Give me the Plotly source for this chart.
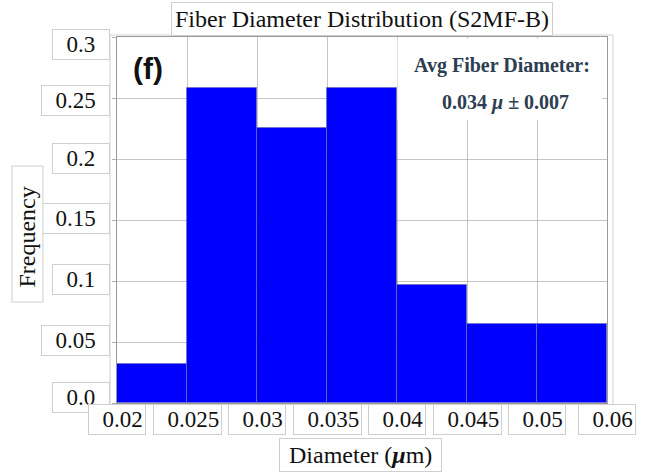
import plotly.graph_objects as go

# ---- data ----
bin_edge_labels = ["0.02", "0.025", "0.03", "0.035", "0.04", "0.045", "0.05", "0.06"]
frequency = [0.0323, 0.2581, 0.2258, 0.2581, 0.0968, 0.0645, 0.0645]
y_tick_vals = [0.0, 0.05, 0.1, 0.15, 0.2, 0.25, 0.3]
y_tick_text = ["0.0", "0.05", "0.1", "0.15", "0.2", "0.25", "0.3"]
title_text = "Fiber Diameter Distribution (S2MF-B)"
x_title = "Diameter (<b><i>μ</i></b>m)"
y_title = "Frequency"
panel_label = "(f)"
stat_line1 = "Avg Fiber Diameter:"
stat_line2 = "0.034 <i>μ</i> ± 0.007"

# label nudges (pixels) to mimic the pasted label boxes of the original
y_label_nudge = [6, 2, 2, 2, 1, -2, -7]

SERIF = "Liberation Serif"
NB = "\u00a0"
BOX = "#cfcfcf"

n_bins = len(frequency)
bin_centers = [i + 0.5 for i in range(n_bins)]
edge_pos = list(range(n_bins + 1))

fig = go.Figure()
fig.add_trace(go.Bar(
    x=bin_centers, y=frequency, width=1.0,
    marker=dict(color="#0000FF", line=dict(color="rgba(110,110,190,0.7)", width=1)),
    hoverinfo="skip", showlegend=False,
))

annotations = []
# y tick labels in boxes
for v, t, dy in zip(y_tick_vals, y_tick_text, y_label_nudge):
    annotations.append(dict(
        xref="paper", yref="y", x=0, y=v, xanchor="right", yanchor="middle",
        xshift=-7, yshift=dy, text=NB * 2 + t + NB * 2, showarrow=False,
        font=dict(family=SERIF, size=23, color="#111"),
        bgcolor="white", bordercolor=BOX, borderwidth=1, borderpad=2,
    ))
# x tick labels in boxes
for p, t in zip(edge_pos, bin_edge_labels):
    annotations.append(dict(
        xref="x", yref="paper", x=p, y=0, xanchor="center", yanchor="top",
        yshift=-1, text=NB * 2 + t, showarrow=False,
        font=dict(family=SERIF, size=23, color="#111"),
        bgcolor="white", bordercolor=BOX, borderwidth=1, borderpad=2,
    ))
# title
annotations.append(dict(
    xref="paper", yref="paper", x=0.5, y=1, xanchor="center", yanchor="bottom",
    yshift=1, text=title_text, showarrow=False,
    font=dict(family=SERIF, size=24, color="#111"),
    bgcolor="white", bordercolor=BOX, borderwidth=1, borderpad=3,
))
# x title
annotations.append(dict(
    xref="paper", yref="paper", x=0.497, y=0, xanchor="center", yanchor="top",
    yshift=-35, text=NB + x_title + NB, showarrow=False,
    font=dict(family=SERIF, size=24, color="#111"),
    bgcolor="white", bordercolor=BOX, borderwidth=1, borderpad=3,
))
# y title
annotations.append(dict(
    xref="paper", yref="paper", x=-0.1837, y=0.463, xanchor="center", yanchor="middle",
    text=NB * 2 + y_title + NB * 3, textangle=-90, showarrow=False,
    font=dict(family=SERIF, size=24, color="#111"),
    bgcolor="white", bordercolor=BOX, borderwidth=1, borderpad=2,
))
# panel label
annotations.append(dict(
    xref="paper", yref="paper", x=0.0633, y=0.9126, xanchor="center", yanchor="middle",
    text="<b>" + panel_label + "</b>", showarrow=False,
    font=dict(family="Liberation Sans", size=30, color="#111"),
))
# stats text
annotations.append(dict(
    xref="paper", yref="paper", x=0.786, y=0.921, xanchor="center", yanchor="middle",
    text="<b>" + stat_line1 + "</b>", showarrow=False,
    font=dict(family=SERIF, size=20, color="#2c3e50"),
))
annotations.append(dict(
    xref="paper", yref="paper", x=0.792, y=0.822, xanchor="center", yanchor="middle",
    text="<b>" + stat_line2 + "</b>", showarrow=False,
    font=dict(family=SERIF, size=20, color="#2c3e50"),
))

shapes = [
    # outer light frame
    dict(type="rect", xref="paper", yref="paper", x0=-0.0143, x1=1.0122, y0=-0.004, y1=1.0055,
         line=dict(color="#d0d0d0", width=1), fillcolor="rgba(0,0,0,0)", layer="below"),
    # white box behind stats text
    dict(type="rect", xref="paper", yref="paper", x0=0.5725, x1=0.99, y0=0.773, y1=0.996,
         line=dict(width=0), fillcolor="white", layer="above"),
]

fig.update_layout(
    width=647, height=476,
    margin=dict(l=117, r=40, t=37, b=73),
    paper_bgcolor="white", plot_bgcolor="white",
    bargap=0,
    annotations=annotations,
    shapes=shapes,
    xaxis=dict(
        range=[0, n_bins], tickvals=edge_pos, showticklabels=False,
        showgrid=True, gridcolor="rgba(150,150,150,0.55)", gridwidth=1,
        showline=True, linecolor="#9a9a9a", linewidth=1, mirror=True,
        ticks="", zeroline=False, layer="above traces", fixedrange=True,
    ),
    yaxis=dict(
        range=[0, 0.3], tickvals=y_tick_vals, showticklabels=False,
        showgrid=True, gridcolor="rgba(150,150,150,0.55)", gridwidth=1,
        showline=True, linecolor="#9a9a9a", linewidth=1, mirror=True,
        ticks="outside", ticklen=4, tickcolor="#b0b0b0",
        zeroline=False, layer="above traces", fixedrange=True,
    ),
)

fig.write_html(
    "out.html",
    config={"displayModeBar": False},
    post_script="document.body.style.margin='0';document.body.style.overflow='hidden';",
)
